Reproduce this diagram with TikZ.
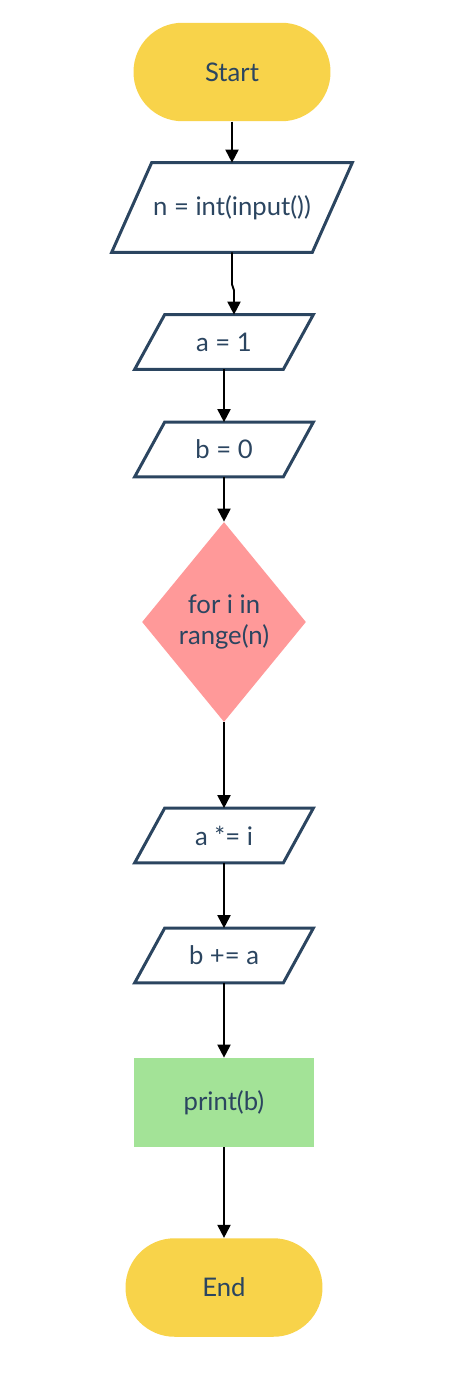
\documentclass[tikz,border=0pt]{standalone}
\usepackage{fontspec}
\setmainfont{Lato}
\usetikzlibrary{shapes.geometric,arrows.meta}
\definecolor{navy}{HTML}{2B4560}
\definecolor{sunny}{HTML}{F8D34A}
\definecolor{salmon}{HTML}{FF9999}
\definecolor{mint}{HTML}{A3E397}
\begin{document}
\begin{tikzpicture}[x=0.02cm, y=-0.02cm, font=\fontsize{14.6}{17.5}\selectfont, text=navy,
	>={Triangle[length=0.26cm,width=0.26cm]},
	term/.style={fill=sunny, minimum width=3.94cm, minimum height=1.97cm, rounded corners=0.98cm},
	io/.style={minimum width=#1, minimum height=1.08cm, inner sep=0pt},
	io/.default=2.96cm,
	iostroke/.style={draw=navy, line width=1.7pt},
	flow/.style={->, line width=1.1pt}]
	\useasboundingbox (0,0) rectangle (454,1378);
	\node[term] (start) at (232,72) {Start};
	\node[io=4cm, minimum height=1.78cm] (n) at (232,207.5) {n = int(input())};
	\node[io] (a1) at (224,342) {a = 1};
	\node[io] (b0) at (224,449.5) {b = 0};
	\node[diamond, fill=salmon, minimum width=3.28cm, minimum height=4cm, inner sep=0pt, align=center] (loop) at (224,622) {for i in\\range(n)};
	\node[io] (ai) at (224,835.5) {a *= i};
	\node[io] (ba) at (224,955.5) {b += a};
	\node[fill=mint, minimum width=3.62cm, minimum height=1.78cm] (out) at (224,1102.5) {print(b)};
	\node[term] (end) at (224,1287.5) {End};
	% parallelogram outlines
	\foreach \p/\s in {n/0.4, a1/0.3, b0/0.3, ai/0.3, ba/0.3}{
		\draw[iostroke] ([xshift=\s cm]\p.north west) -- ([xshift=\s cm]\p.north east)
			-- ([xshift=-\s cm]\p.south east) -- ([xshift=-\s cm]\p.south west) -- cycle;}
	% connectors
	\draw[flow] (start.south) -- (n.north);
	\draw[flow] (n.south) -- ++(0,32) -- ++(2,6) coordinate (kink) -- (kink |- a1.north);
	\foreach \u/\v in {a1/b0, b0/loop, loop/ai, ai/ba, ba/out, out/end}
		\draw[flow] (\u.south) -- (\v.north);
\end{tikzpicture}
\end{document}
